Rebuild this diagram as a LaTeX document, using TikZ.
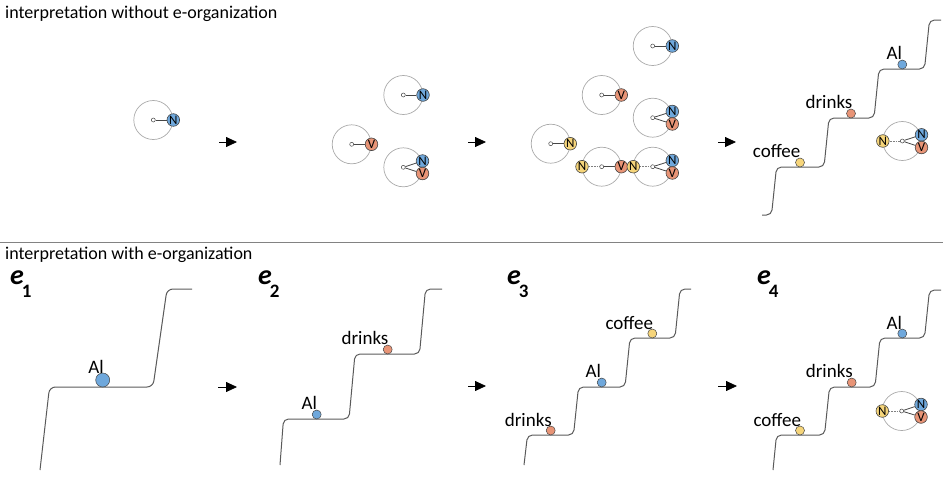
\documentclass[tikz,border=0pt]{standalone}
\usepackage{fontspec}
\setmainfont{Carlito}
\usetikzlibrary{arrows.meta}
\definecolor{nblue}{RGB}{111,168,220}
\definecolor{vorange}{RGB}{232,148,118}
\definecolor{nyellow}{RGB}{246,213,122}
\definecolor{ringgray}{RGB}{170,170,170}
\definecolor{edgegray}{RGB}{70,70,70}
\definecolor{stairgray}{RGB}{90,90,90}
\definecolor{sepgray}{RGB}{130,130,130}
\tikzset{
 ring/.style={draw=ringgray, line width=0.7pt, circle, minimum size=39pt, inner sep=0pt},
 hub/.style={draw=edgegray, fill=white, circle, minimum size=4pt, inner sep=0pt, line width=0.5pt},
 tok/.style={circle, draw=edgegray, line width=0.6pt, minimum size=12.6pt, inner sep=0pt, font=\fontsize{13}{13}\selectfont},
 ntok/.style={tok, fill=nblue},
 vtok/.style={tok, fill=vorange},
 ytok/.style={tok, fill=nyellow},
 link/.style={draw=edgegray, line width=0.8pt},
 dlink/.style={draw=gray, line width=0.8pt, dash pattern=on 0.8pt off 0.8pt},
 stair/.style={draw=stairgray, line width=1pt, rounded corners=5pt},
 ball/.style={circle, draw=edgegray, line width=0.5pt, minimum size=9pt, inner sep=0pt},
 bigball/.style={ball, minimum size=14pt},
 word/.style={font=\fontsize{19}{19}\selectfont, inner sep=0pt},
 title/.style={font=\fontsize{18}{18}\selectfont, anchor=west, inner sep=0pt},
 elab/.style={anchor=base west, inner sep=0pt},
 flow/.style={-{Triangle[length=11pt,width=10pt]}, line width=0.8pt},
}
\newcommand{\ringhub}[2]{\node[ring] (#1r) at #2 {}; \node[hub] (#1) at #2 {};}
\newcommand{\ename}[1]{{\fontsize{28}{28}\selectfont\bfseries\itshape e}\kern-2pt\raisebox{-13pt}{\fontsize{19}{19}\selectfont\bfseries #1}}
\begin{document}
\begin{tikzpicture}[x=1pt,y=-1pt]
\useasboundingbox (0,0) rectangle (943,488);
% titles and separator
\node[title] (t1) at (5,14) {interpretation without e-organization};
\node[title] (t2) at (5,255) {interpretation with e-organization};
\coordinate (sepl) at (0,242);
\coordinate (sepr) at (943,242);
\draw[sepgray, line width=0.8pt] (sepl) -- (sepr);

% ---------- top panel 1
\ringhub{a1}{(153.3,120)}
\node[ntok] (a1n) at (173.3,120) {N};
\draw[link] (a1) -- (a1n);

% ---------- top panel 2
\ringhub{b1}{(403.3,95)}
\node[ntok] (b1n) at (423,95) {N};
\draw[link] (b1) -- (b1n);
\ringhub{b2}{(351.7,144.3)}
\node[vtok] (b2v) at (371.5,144.3) {V};
\draw[link] (b2) -- (b2v);
\ringhub{b3}{(403.3,167.3)}
\node[ntok] (b3n) at (422.5,161) {N};
\node[vtok] (b3v) at (422.5,173.5) {V};
\draw[link] (b3) -- (b3n);
\draw[link] (b3) -- (b3v);

% ---------- top panel 3
\ringhub{c1}{(652.7,46)}
\node[ntok] (c1n) at (672.3,46) {N};
\draw[link] (c1) -- (c1n);
\ringhub{c2}{(601.7,95)}
\node[vtok] (c2v) at (621.3,95) {V};
\draw[link] (c2) -- (c2v);
\ringhub{c3}{(652.7,117.7)}
\node[ntok] (c3n) at (672.3,111.5) {N};
\node[vtok] (c3v) at (672.3,124) {V};
\draw[link] (c3) -- (c3n);
\draw[link] (c3) -- (c3v);
\ringhub{c4}{(550.7,143.7)}
\node[ytok] (c4y) at (570.3,143.7) {N};
\draw[link] (c4) -- (c4y);
\ringhub{c5}{(601.7,166.7)}
\ringhub{c6}{(652.7,166.7)}
\node[ytok] (c5y) at (582,166.7) {N};
\node[vtok] (c5v) at (621.3,166.7) {V};
\node[ytok] (c6y) at (633.3,166.7) {N};
\node[ntok] (c6n) at (672.3,160.5) {N};
\node[vtok] (c6v) at (672.3,173) {V};
\draw[dlink] (c5) -- (c5y);
\draw[link] (c5) -- (c5v);
\draw[dlink] (c6) -- (c6y);
\draw[link] (c6) -- (c6n);
\draw[link] (c6) -- (c6v);

% ---------- top panel 4
\draw[stair] (762,215) -- (771.5,215) -- (776.5,167) -- (824,167) -- (829,118) -- (874,118) -- (879,69) -- (924.5,69) -- (929.5,20) -- (941,20);
\node[ball, fill=nyellow] (d1c) at (800,162.5) {};
\node[word] (d1cl) at (776.7,150.7) {coffee};
\node[ball, fill=vorange] (d1d) at (851,113.5) {};
\node[word] (d1dl) at (829,101.7) {drinks};
\node[ball, fill=nblue] (d1a) at (902.3,64.5) {};
\node[word] (d1al) at (894.3,53.3) {Al};
\ringhub{d1}{(902.3,141)}
\node[ytok] (d1y) at (882.8,141) {N};
\node[ntok] (d1n) at (921.5,134.8) {N};
\node[vtok] (d1v) at (921.5,147.5) {V};
\draw[dlink] (d1) -- (d1y);
\draw[link] (d1) -- (d1n);
\draw[link] (d1) -- (d1v);

% top arrows
\coordinate (f1s) at (219,142); \coordinate (f1e) at (237,142);
\coordinate (f2s) at (468,142); \coordinate (f2e) at (486,142);
\coordinate (f3s) at (718,142); \coordinate (f3e) at (736,142);
\draw[flow] (f1s) -- (f1e);
\draw[flow] (f2s) -- (f2e);
\draw[flow] (f3s) -- (f3e);

% ---------- bottom: e labels
\node[elab] (e1) at (10,284) {\ename{1}};
\node[elab] (e2) at (258,284) {\ename{2}};
\node[elab] (e3) at (507,284) {\ename{3}};
\node[elab] (e4) at (757,284) {\ename{4}};

% e1
\draw[stair, rounded corners=6pt] (40,470) -- (49.5,387) -- (153,387) -- (167,289) -- (192,289);
\node[bigball, fill=nblue] (g1a) at (102.7,380) {};
\node[word] (g1al) at (96,367) {Al};

% e2
\draw[stair] (280,465) -- (283.5,419) -- (349,419) -- (355,354) -- (419.5,354) -- (425.5,289) -- (442,289);
\node[ball, fill=nblue] (g2a) at (316.7,414.5) {};
\node[word] (g2al) at (309.3,403.3) {Al};
\node[ball, fill=vorange] (g2d) at (387.7,349.5) {};
\node[word] (g2dl) at (365,337.7) {drinks};

% e3
\draw[stair] (524,465) -- (527.5,435) -- (573.5,435) -- (578.5,387) -- (625,387) -- (630,338) -- (675,338) -- (680,289) -- (691,289);
\node[ball, fill=vorange] (g3d) at (550.7,430.5) {};
\node[word] (g3dl) at (528.3,420) {drinks};
\node[ball, fill=nblue] (g3a) at (601.7,382.5) {};
\node[word] (g3al) at (593.3,371) {Al};
\node[ball, fill=nyellow] (g3c) at (652.3,333.5) {};
\node[word] (g3cl) at (629.3,322.7) {coffee};

% e4
\draw[stair] (773,470) -- (776.5,435) -- (824.5,435) -- (829.5,387) -- (875,387) -- (880,338) -- (924.5,338) -- (929.5,290) -- (941,290);
\node[ball, fill=nyellow] (g4c) at (800,430.5) {};
\node[word] (g4cl) at (777.3,420) {coffee};
\node[ball, fill=vorange] (g4d) at (851.7,382.5) {};
\node[word] (g4dl) at (829.3,370.7) {drinks};
\node[ball, fill=nblue] (g4a) at (902.3,333.5) {};
\node[word] (g4al) at (894.3,322.7) {Al};
\ringhub{g4}{(901.7,411)}
\node[ytok] (g4y) at (882.3,411) {N};
\node[ntok] (g4n) at (921,404.5) {N};
\node[vtok] (g4v) at (921,417) {V};
\draw[dlink] (g4) -- (g4y);
\draw[link] (g4) -- (g4n);
\draw[link] (g4) -- (g4v);

% bottom arrows
\coordinate (h1s) at (218,387); \coordinate (h1e) at (237,387);
\coordinate (h2s) at (468,386); \coordinate (h2e) at (486,386);
\coordinate (h3s) at (718,386); \coordinate (h3e) at (737,386);
\draw[flow] (h1s) -- (h1e);
\draw[flow] (h2s) -- (h2e);
\draw[flow] (h3s) -- (h3e);
\end{tikzpicture}
\end{document}
